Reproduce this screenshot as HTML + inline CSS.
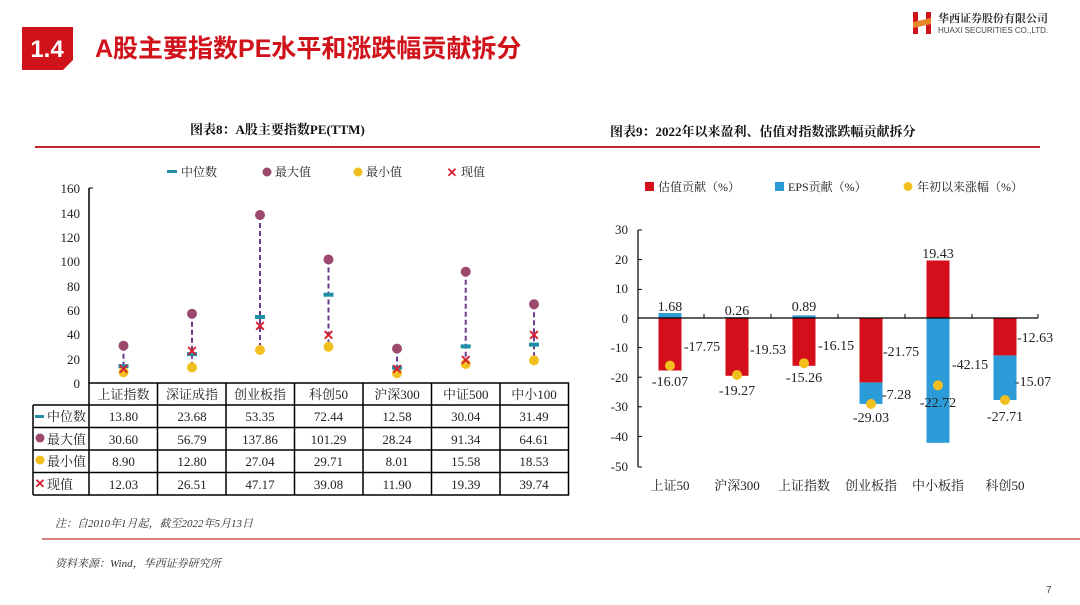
<!DOCTYPE html>
<html><head><meta charset="utf-8"><style>
html,body{margin:0;padding:0;background:#fff;}
svg{display:block;}
.s{font-family:"Liberation Serif","Noto Serif CJK SC",serif;}
.k{font-family:"Liberation Sans","Noto Sans CJK SC",sans-serif;}
</style></head><body>
<svg width="1080" height="605" viewBox="0 0 1080 605" xmlns="http://www.w3.org/2000/svg">
<!-- header -->
<polygon points="22,27 73,27 73,60 63,70 22,70" fill="#d0121b"/>
<text x="47" y="57" text-anchor="middle" class="k" font-size="24" font-weight="bold" fill="#fff">1.4</text>
<text x="95" y="57" class="k" font-size="25" font-weight="bold" fill="#d0121b">A股主要指数PE水平和涨跌幅贡献拆分</text>
<!-- logo -->
<rect x="913" y="12" width="5" height="22" fill="#d0121b"/>
<rect x="926" y="12" width="5" height="22" fill="#d0121b"/>
<polygon points="913,22 931,18 931,24 913,28" fill="#e8862a"/>
<text x="938" y="22" class="s" font-size="11" font-weight="bold" fill="#333">华西证券股份有限公司</text>
<text x="938" y="33" class="k" font-size="8" fill="#444">HUAXI SECURITIES CO.,LTD.</text>
<!-- figure titles -->
<text x="190" y="134" class="s" font-size="13" font-weight="bold" fill="#111">图表8：A股主要指数PE(TTM)</text>
<text x="610" y="136" class="s" font-size="13" font-weight="bold" fill="#111">图表9：2022年以来盈利、估值对指数涨跌幅贡献拆分</text>
<line x1="35" y1="147" x2="1040" y2="147" stroke="#c0272d" stroke-width="2"/>

<!-- LEFT CHART legend -->
<g class="s" font-size="12" fill="#222">
<rect x="167" y="170" width="10" height="3" fill="#1f8fa8"/><text x="181" y="176">中位数</text>
<circle cx="267" cy="172" r="4.5" fill="#9b4a6d"/><text x="275" y="176">最大值</text>
<circle cx="358" cy="172" r="4.5" fill="#f2c01e"/><text x="366" y="176">最小值</text>
<text x="452" y="177" text-anchor="middle" font-size="13" fill="#d62030" font-weight="bold">✕</text><text x="461" y="176">现值</text>
</g>
<!-- y axis -->
<g class="s" font-size="13" fill="#222" text-anchor="end">
<text x="80" y="388">0</text><text x="80" y="364">20</text><text x="80" y="339">40</text><text x="80" y="315">60</text><text x="80" y="291">80</text><text x="80" y="266">100</text><text x="80" y="242">120</text><text x="80" y="218">140</text><text x="80" y="193">160</text>
</g>
<line x1="89" y1="188" x2="89" y2="383" stroke="#000" stroke-width="1.5"/>
<g stroke="#000" stroke-width="1"><line x1="89" y1="188" x2="93" y2="188"/></g>

<!-- series: centers, y=383-v*1.219 -->
<g stroke="#6b3a8a" stroke-width="2" stroke-dasharray="5,3">
<line x1="123.5" y1="345.7" x2="123.5" y2="372.2"/>
<line x1="192" y1="313.8" x2="192" y2="367.4"/>
<line x1="260" y1="215" x2="260" y2="350"/>
<line x1="328.5" y1="259.5" x2="328.5" y2="346.8"/>
<line x1="397" y1="348.6" x2="397" y2="373.2"/>
<line x1="465.7" y1="271.7" x2="465.7" y2="364"/>
<line x1="534" y1="304.2" x2="534" y2="360.4"/>
</g>
<g fill="#f2c01e">
<circle cx="123.5" cy="372.2" r="5"/><circle cx="192" cy="367.4" r="5"/><circle cx="260" cy="350" r="5"/><circle cx="328.5" cy="346.8" r="5"/><circle cx="397" cy="373.2" r="5"/><circle cx="465.7" cy="364" r="5"/><circle cx="534" cy="360.4" r="5"/>
</g>
<g fill="#9b4a6d">
<circle cx="123.5" cy="345.7" r="5"/><circle cx="192" cy="313.8" r="5"/><circle cx="260" cy="215" r="5"/><circle cx="328.5" cy="259.5" r="5"/><circle cx="397" cy="348.6" r="5"/><circle cx="465.7" cy="271.7" r="5"/><circle cx="534" cy="304.2" r="5"/>
</g>
<g fill="#1f8fa8">
<rect x="118.5" y="364.2" width="10" height="4"/><rect x="187" y="352.1" width="10" height="4"/><rect x="255" y="315" width="10" height="4"/><rect x="323.5" y="292.7" width="10" height="4"/><rect x="392" y="365.7" width="10" height="4"/><rect x="460.7" y="344.4" width="10" height="4"/><rect x="529" y="342.6" width="10" height="4"/>
</g>
<g class="k" font-size="14" font-weight="bold" fill="#d62030" text-anchor="middle">
<text x="123.5" y="374">✕</text><text x="192" y="356">✕</text><text x="260" y="331">✕</text><text x="328.5" y="340">✕</text><text x="397" y="374">✕</text><text x="465.7" y="365">✕</text><text x="534" y="340">✕</text>
</g>

<!-- table -->
<g stroke="#000" stroke-width="1.5" fill="none">
<rect x="89" y="383" width="479.5" height="112"/>
<line x1="33" y1="405" x2="568.5" y2="405"/>
<line x1="33" y1="427.5" x2="568.5" y2="427.5"/>
<line x1="33" y1="450" x2="568.5" y2="450"/>
<line x1="33" y1="472.5" x2="568.5" y2="472.5"/>
<line x1="33" y1="495" x2="89" y2="495"/>
<line x1="33" y1="405" x2="33" y2="495"/>
<line x1="157.5" y1="383" x2="157.5" y2="495"/><line x1="226" y1="383" x2="226" y2="495"/><line x1="294.5" y1="383" x2="294.5" y2="495"/><line x1="363" y1="383" x2="363" y2="495"/><line x1="431.5" y1="383" x2="431.5" y2="495"/><line x1="500" y1="383" x2="500" y2="495"/>
</g>
<g class="s" font-size="13" fill="#222" text-anchor="middle">
<text x="123.5" y="399">上证指数</text><text x="192" y="399">深证成指</text><text x="260" y="399">创业板指</text><text x="328.5" y="399">科创50</text><text x="397" y="399">沪深300</text><text x="465.7" y="399">中证500</text><text x="534" y="399">中小100</text>
<text x="123.5" y="421">13.80</text><text x="192" y="421">23.68</text><text x="260" y="421">53.35</text><text x="328.5" y="421">72.44</text><text x="397" y="421">12.58</text><text x="465.7" y="421">30.04</text><text x="534" y="421">31.49</text>
<text x="123.5" y="444">30.60</text><text x="192" y="444">56.79</text><text x="260" y="444">137.86</text><text x="328.5" y="444">101.29</text><text x="397" y="444">28.24</text><text x="465.7" y="444">91.34</text><text x="534" y="444">64.61</text>
<text x="123.5" y="466">8.90</text><text x="192" y="466">12.80</text><text x="260" y="466">27.04</text><text x="328.5" y="466">29.71</text><text x="397" y="466">8.01</text><text x="465.7" y="466">15.58</text><text x="534" y="466">18.53</text>
<text x="123.5" y="489">12.03</text><text x="192" y="489">26.51</text><text x="260" y="489">47.17</text><text x="328.5" y="489">39.08</text><text x="397" y="489">11.90</text><text x="465.7" y="489">19.39</text><text x="534" y="489">39.74</text>
</g>
<g class="s" font-size="13" fill="#222">
<rect x="35" y="415" width="9" height="3" fill="#1f8fa8"/><text x="47" y="421">中位数</text>
<circle cx="40" cy="438" r="4.5" fill="#9b4a6d"/><text x="47" y="444">最大值</text>
<circle cx="40" cy="460" r="4.5" fill="#f2c01e"/><text x="47" y="466">最小值</text>
<text x="40" y="488" text-anchor="middle" font-weight="bold" fill="#d62030">✕</text><text x="47" y="489">现值</text>
</g>

<!-- RIGHT CHART legend -->
<g class="s" font-size="12" fill="#222">
<rect x="645" y="182" width="9" height="9" fill="#d40f1b"/><text x="658" y="191">估值贡献（%）</text>
<rect x="775" y="182" width="9" height="9" fill="#2b9cd8"/><text x="788" y="191">EPS贡献（%）</text>
<circle cx="908" cy="186.5" r="4.5" fill="#f2c01e"/><text x="917" y="191">年初以来涨幅（%）</text>
</g>
<g class="s" font-size="13" fill="#222" text-anchor="end">
<text x="628" y="234">30</text><text x="628" y="264">20</text><text x="628" y="293">10</text><text x="628" y="323">0</text><text x="628" y="352">-10</text><text x="628" y="382">-20</text><text x="628" y="411">-30</text><text x="628" y="441">-40</text><text x="628" y="471">-50</text>
</g>
<line x1="638" y1="230" x2="638" y2="467" stroke="#000" stroke-width="1.2"/>
<g stroke="#000" stroke-width="1"><line x1="638" y1="230" x2="642" y2="230"/><line x1="638" y1="259.6" x2="642" y2="259.6"/><line x1="638" y1="289.4" x2="642" y2="289.4"/><line x1="638" y1="347.6" x2="642" y2="347.6"/><line x1="638" y1="377.2" x2="642" y2="377.2"/><line x1="638" y1="406.8" x2="642" y2="406.8"/><line x1="638" y1="436.4" x2="642" y2="436.4"/><line x1="638" y1="467" x2="642" y2="467"/></g>
<!-- bars: y=318-v*2.96 -->
<g fill="#2b9cd8">
<rect x="658.5" y="313" width="23" height="5"/>
<rect x="725.5" y="317.2" width="23" height="0.8"/>
<rect x="792.5" y="315.4" width="23" height="2.6"/>
<rect x="859.5" y="382.4" width="23" height="21.5"/>
<rect x="926.5" y="318" width="23" height="124.8"/>
<rect x="993.5" y="355.4" width="23" height="44.6"/>
</g>
<g fill="#d40f1b">
<rect x="658.5" y="318" width="23" height="52.5"/>
<rect x="725.5" y="318" width="23" height="57.8"/>
<rect x="792.5" y="318" width="23" height="47.8"/>
<rect x="859.5" y="318" width="23" height="64.4"/>
<rect x="926.5" y="260.5" width="23" height="57.5"/>
<rect x="993.5" y="318" width="23" height="37.4"/>
</g>
<line x1="638" y1="318" x2="1038" y2="318" stroke="#000" stroke-width="1.2"/>
<g stroke="#000" stroke-width="1"><line x1="704" y1="314" x2="704" y2="318"/><line x1="771" y1="314" x2="771" y2="318"/><line x1="838" y1="314" x2="838" y2="318"/><line x1="905" y1="314" x2="905" y2="318"/><line x1="972" y1="314" x2="972" y2="318"/><line x1="1038" y1="314" x2="1038" y2="318"/></g>
<g fill="#f2c01e">
<circle cx="670" cy="365.6" r="5"/><circle cx="737" cy="375" r="5"/><circle cx="804" cy="363.2" r="5"/><circle cx="871" cy="404" r="5"/><circle cx="938" cy="385.3" r="5"/><circle cx="1005" cy="400" r="5"/>
</g>
<g class="s" font-size="14" fill="#222">
<text x="670" y="311" text-anchor="middle">1.68</text>
<text x="737" y="315" text-anchor="middle">0.26</text>
<text x="804" y="311" text-anchor="middle">0.89</text>
<text x="938" y="258" text-anchor="middle">19.43</text>
<text x="684" y="351">-17.75</text>
<text x="750" y="354">-19.53</text>
<text x="818" y="350">-16.15</text>
<text x="883" y="356">-21.75</text>
<text x="882" y="399">-7.28</text>
<text x="952" y="369">-42.15</text>
<text x="1017" y="342">-12.63</text>
<text x="1015" y="386">-15.07</text>
<text x="670" y="386" text-anchor="middle">-16.07</text>
<text x="737" y="395" text-anchor="middle">-19.27</text>
<text x="804" y="382" text-anchor="middle">-15.26</text>
<text x="871" y="422" text-anchor="middle">-29.03</text>
<text x="938" y="407" text-anchor="middle">-22.72</text>
<text x="1005" y="421" text-anchor="middle">-27.71</text>
</g>
<g class="s" font-size="13" fill="#222" text-anchor="middle">
<text x="670" y="490">上证50</text><text x="737" y="490">沪深300</text><text x="804" y="490">上证指数</text><text x="871" y="490">创业板指</text><text x="938" y="490">中小板指</text><text x="1005" y="490">科创50</text>
</g>

<!-- notes -->
<text x="55" y="527" class="s" font-size="11" font-style="italic" fill="#333">注：自2010年1月起，截至2022年5月13日</text>
<line x1="42" y1="539" x2="1080" y2="539" stroke="#c0272d" stroke-width="1.5" opacity="0.8"/>
<text x="55" y="567" class="s" font-size="11" font-style="italic" fill="#333">资料来源：Wind，华西证券研究所</text>
<text x="1046" y="593" class="k" font-size="10" fill="#444">7</text>
</svg>
</body></html>
